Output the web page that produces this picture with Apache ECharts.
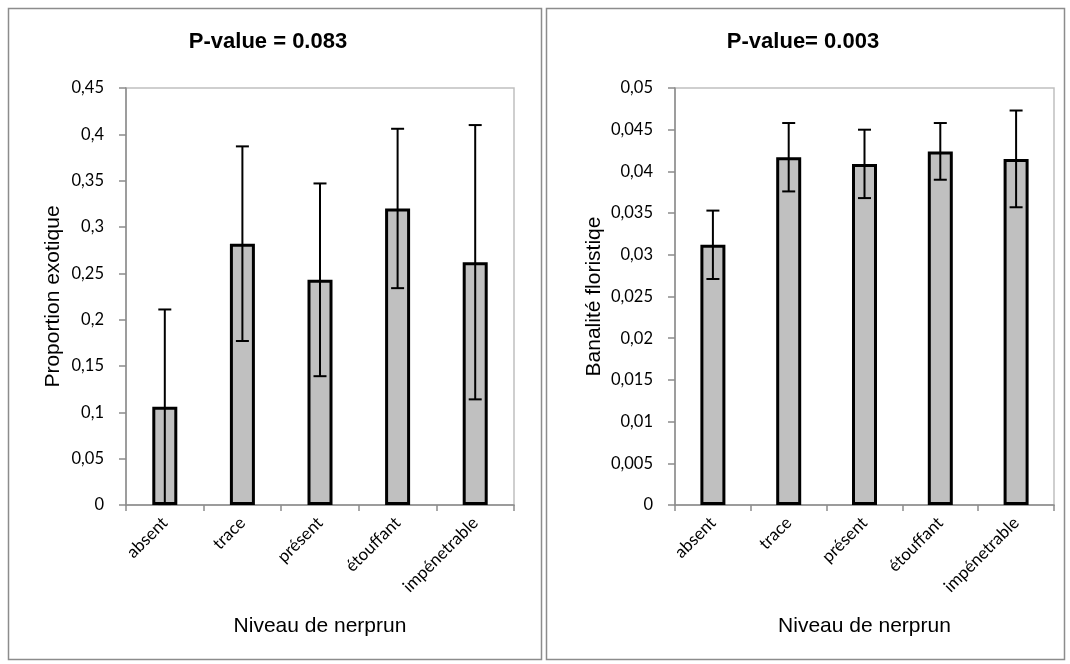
<!DOCTYPE html>
<html>
<head>
<meta charset="utf-8">
<script src="https://cdn.jsdelivr.net/npm/echarts@6/dist/echarts.min.js"></script>
<style>html,body{margin:0;padding:0;background:#fff}#c{width:1070px;height:664px}</style>
</head>
<body>
<div id="c"></div>
<script>
// ---- data ----
const categories = ['absent', 'trace', 'présent', 'étouffant', 'impénetrable'];
const exoticMeans = [0.106, 0.282, 0.243, 0.320, 0.262];
const exoticErrors = [0.105, 0.105, 0.104, 0.086, 0.148];
const banalMeans = [0.0312, 0.0417, 0.0409, 0.0424, 0.0415];
const banalErrors = [0.0041, 0.0041, 0.0041, 0.0034, 0.0058];
const titles = ['P-value = 0.083', 'P-value= 0.003'];
const yNames = ['Proportion exotique', 'Banalité floristiqe'];
const xName = 'Niveau de nerprun';

const chart = echarts.init(document.getElementById('c'), null, {renderer: 'canvas'});

function fmt(v) { return String(parseFloat(v.toFixed(4))).replace('.', ','); }

const axisGray = '#8c8c8c';
function xAxis(gi) {
  return {
    type: 'category', gridIndex: gi, data: categories,
    name: xName, nameLocation: 'middle', nameGap: 111,
    nameTextStyle: {fontFamily: 'Liberation Sans', fontSize: 21, color: '#000'},
    axisLine: {lineStyle: {color: axisGray, width: 1.5}},
    axisTick: {show: true, length: 6, lineStyle: {color: axisGray, width: 1.5}},
    axisLabel: {rotate: 45, margin: 15, fontFamily: 'Lato', fontSize: 17, color: '#000', interval: 0},
    splitLine: {show: false}
  };
}
function yAxis(gi, max, interval, nameGap) {
  return {
    type: 'value', gridIndex: gi, min: 0, max: max, interval: interval,
    name: yNames[gi], nameLocation: 'middle', nameGap: nameGap,
    nameTextStyle: {fontFamily: 'Liberation Sans', fontSize: 21, color: '#000'},
    axisLine: {show: true, lineStyle: {color: axisGray, width: 1.5}},
    axisTick: {show: true, length: 7, lineStyle: {color: axisGray, width: 1.5}},
    axisLabel: {margin: 22, fontFamily: 'Lato', fontSize: 16.5, color: '#000', formatter: fmt},
    splitLine: {show: false}
  };
}
function errSeries(gi, means, errs) {
  return {
    type: 'custom', xAxisIndex: gi, yAxisIndex: gi, z: 5,
    data: means.map((m, i) => [i, m, errs[i]]),
    renderItem: function (params, api) {
      const i = api.value(0), m = api.value(1), e = api.value(2);
      const top = api.coord([i, m + e]);
      const bot = api.coord([i, Math.max(0, m - e)]);
      const hw = 6.5;
      const st = {stroke: '#000', lineWidth: 2};
      return {type: 'group', children: [
        {type: 'line', shape: {x1: top[0], y1: top[1], x2: bot[0], y2: bot[1]}, style: st},
        {type: 'line', shape: {x1: top[0] - hw, y1: top[1], x2: top[0] + hw, y2: top[1]}, style: st},
        {type: 'line', shape: {x1: bot[0] - hw, y1: bot[1], x2: bot[0] + hw, y2: bot[1]}, style: st}
      ]};
    }
  };
}
function barSeries(gi, means) {
  return {
    type: 'bar', xAxisIndex: gi, yAxisIndex: gi, data: means, barWidth: 25,
    itemStyle: {color: '#c0c0c0', borderColor: '#000', borderWidth: 3},
    z: 3
  };
}

chart.setOption({
  animation: false,
  backgroundColor: '#fff',
  title: [
    {text: titles[0], left: 268, top: 31, textAlign: 'center', padding: 0,
     textStyle: {fontFamily: 'Liberation Sans', fontWeight: 'bold', fontSize: 22, color: '#000'}},
    {text: titles[1], left: 803, top: 31, textAlign: 'center', padding: 0,
     textStyle: {fontFamily: 'Liberation Sans', fontWeight: 'bold', fontSize: 22, color: '#000'}}
  ],
  graphic: [
    {type: 'rect', shape: {x: 8.5, y: 8.5, width: 533, height: 651}, style: {fill: 'none', stroke: '#8c8c8c', lineWidth: 1.5}, z: -1},
    {type: 'rect', shape: {x: 546.5, y: 8.5, width: 518, height: 651}, style: {fill: 'none', stroke: '#8c8c8c', lineWidth: 1.5}, z: -1}
  ],
  grid: [
    {left: 126, top: 88, width: 388, height: 417, show: true, borderColor: '#c0c0c0', borderWidth: 1.5, backgroundColor: 'transparent'},
    {left: 675, top: 88, width: 379, height: 417, show: true, borderColor: '#c0c0c0', borderWidth: 1.5, backgroundColor: 'transparent'}
  ],
  xAxis: [xAxis(0), xAxis(1)],
  yAxis: [yAxis(0, 0.45, 0.05, 62), yAxis(1, 0.05, 0.005, 70)],
  series: [
    barSeries(0, exoticMeans), errSeries(0, exoticMeans, exoticErrors),
    barSeries(1, banalMeans), errSeries(1, banalMeans, banalErrors)
  ]
});
</script>
</body>
</html>
